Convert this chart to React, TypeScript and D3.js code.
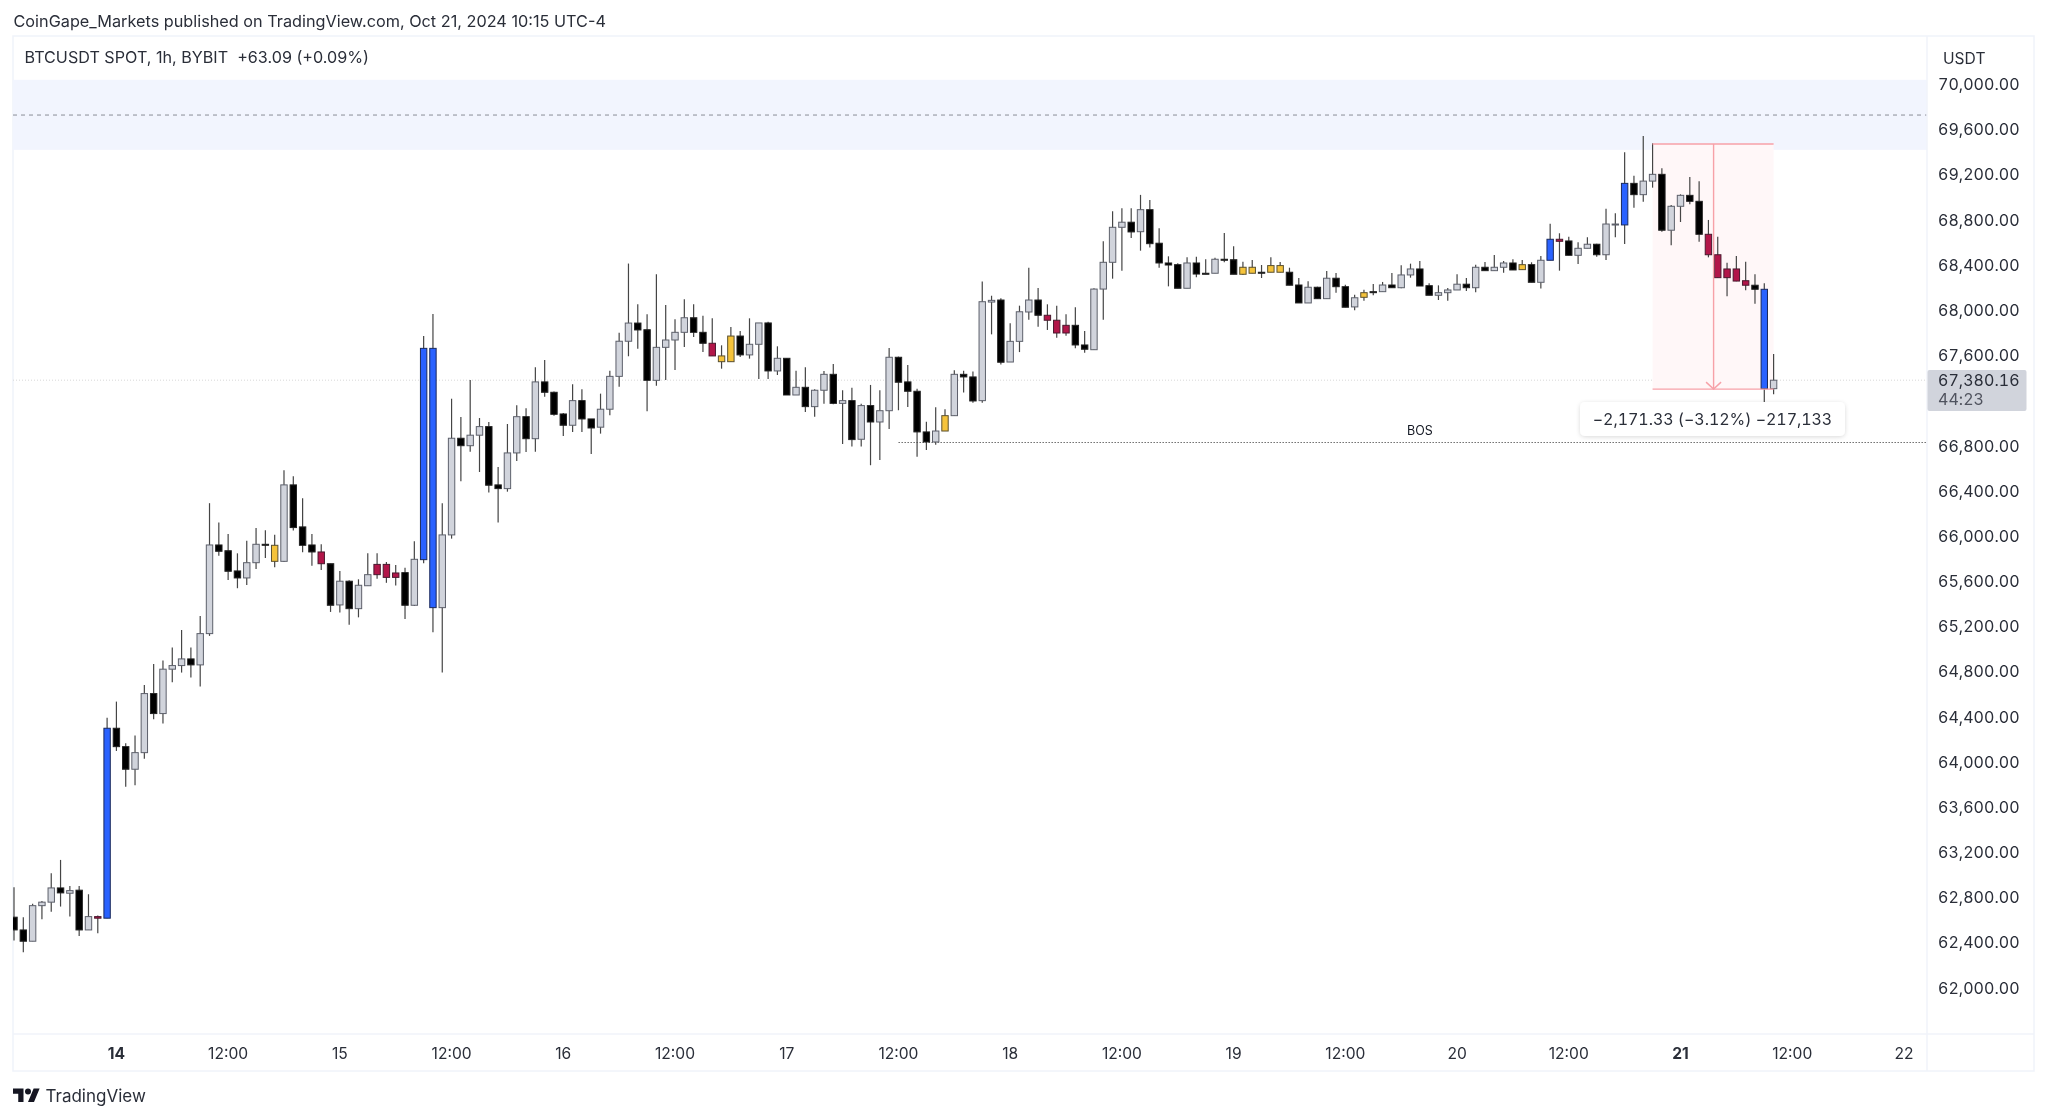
import React from "react";
import * as d3 from "d3";

// One letter per hourly candle: u = up, d = down, b = blue, r = crimson, y = yellow
const candleKinds = [
  "dduuududur", "bdduuduuud", "uuddduudyu", "dddrduduur", "rrdubbuudu",
  "udduududdd", "udduuuuddu", "uuuddryydu", "udududuudu", "duduuddddu",
  "yudduuduuu", "drrrdduuuu", "dudddduddu", "ddyydyyddu", "dudduydudu",
  "udduuududu", "udydubrduu", "duubduuduu", "ddrrrrrdbu",
].join("");

const highs = [
  62890, 62625, 62745, 62769, 63014, 63132, 62902, 62902, 62828, 62639,
  64392, 64534, 64166, 64233, 64682, 64868, 64897, 65012, 65168, 65012,
  65292, 66291, 66119, 66018, 65847, 65959, 66071, 66051, 66012, 66583,
  66530, 66335, 66018, 65927, 65755, 65691, 65608, 65617, 65847, 65847,
  65770, 65744, 65720, 65953, 67771, 67966, 66291, 67216, 67054, 67382,
  67045, 67010, 66612, 66992, 67158, 67131, 67495, 67559, 67279, 67090,
  67344, 67300, 67037, 67261, 67464, 67801, 68413, 68052, 67963, 68318,
  68046, 67919, 68096, 68052, 67951, 67928, 67689, 67851, 67816, 67928,
  67887, 67898, 67680, 67574, 67464, 67495, 67300, 67462, 67524, 67291,
  67314, 67172, 67338, 67291, 67665, 67589, 67515, 67305, 67013, 67140,
  67123, 67468, 67464, 67456, 68255, 68128, 68105, 67884, 68040, 68376,
  68197, 68052, 68040, 67963, 68025, 67816, 68194, 68610, 68876, 68902,
  68902, 69021, 68976, 68725, 68477, 68416, 68469, 68474, 68451, 68465,
  68684, 68566, 68429, 68444, 68400, 68469, 68427, 68376, 68285, 68256,
  68208, 68347, 68330, 68226, 68137, 68182, 68232, 68250, 68330, 68398,
  68412, 68436, 68238, 68220, 68197, 68318, 68285, 68403, 68427, 68489,
  68436, 68451, 68444, 68424, 68480, 68766, 68681, 68651, 68601, 68646,
  68589, 68899, 68858, 69398, 69191, 69543, 69478, 69257, 68932, 69026,
  69180, 69142, 68799, 68651, 68421, 68480, 68429, 68318, 68238, 67612,
];

const bodyTops = [
  62625, 62512, 62727, 62758, 62884, 62884, 62860, 62864, 62630, 62630,
  64298, 64298, 64135, 64082, 64605, 64605, 64821, 64853, 64912, 64912,
  65136, 65921, 65921, 65870, 65691, 65764, 65927, 65927, 65918, 66453,
  66453, 66081, 65921, 65859, 65755, 65600, 65600, 65564, 65658, 65749,
  65749, 65673, 65676, 65794, 67662, 67662, 66010, 66866, 66866, 66893,
  66969, 66969, 66453, 66736, 67057, 67057, 67365, 67365, 67273, 67081,
  67199, 67199, 67037, 67123, 67414, 67725, 67886, 67886, 67827, 67671,
  67736, 67804, 67933, 67933, 67804, 67707, 67595, 67771, 67771, 67698,
  67887, 67887, 67574, 67574, 67317, 67317, 67291, 67432, 67432, 67199,
  67199, 67155, 67155, 67110, 67583, 67583, 67365, 67282, 66922, 66930,
  67066, 67432, 67432, 67409, 68075, 68087, 68090, 67724, 67986, 68090,
  68090, 67955, 67911, 67866, 67866, 67692, 68187, 68424, 68734, 68779,
  68779, 68890, 68890, 68593, 68418, 68403, 68418, 68418, 68327, 68451,
  68451, 68447, 68380, 68380, 68336, 68395, 68395, 68336, 68223, 68203,
  68203, 68283, 68283, 68208, 68110, 68155, 68164, 68223, 68223, 68312,
  68365, 68365, 68217, 68155, 68179, 68230, 68230, 68380, 68380, 68380,
  68418, 68418, 68403, 68403, 68442, 68628, 68628, 68613, 68548, 68584,
  68584, 68763, 68763, 69123, 69123, 69143, 69203, 69203, 68920, 69017,
  69017, 68964, 68672, 68491, 68365, 68365, 68261, 68221, 68185, 67380,
];

const bodyBottoms = [
  62512, 62412, 62412, 62727, 62758, 62840, 62837, 62512, 62512, 62616,
  62616, 64135, 63935, 63935, 64082, 64428, 64428, 64821, 64853, 64859,
  64859, 65136, 65865, 65688, 65629, 65629, 65764, 65918, 65776, 65776,
  66075, 65918, 65859, 65755, 65387, 65390, 65357, 65357, 65560, 65658,
  65634, 65634, 65387, 65387, 65791, 65366, 65366, 66010, 66800, 66800,
  66893, 66450, 66420, 66420, 66736, 66862, 66862, 67273, 67078, 66981,
  66981, 67037, 66957, 66964, 67123, 67414, 67725, 67825, 67379, 67379,
  67671, 67736, 67804, 67804, 67707, 67595, 67544, 67544, 67604, 67604,
  67698, 67462, 67462, 67249, 67249, 67146, 67146, 67291, 67175, 67175,
  66854, 66857, 67010, 67010, 67110, 67362, 67282, 66922, 66833, 66833,
  66930, 67066, 67409, 67196, 67199, 68072, 67539, 67541, 67724, 67984,
  67955, 67911, 67798, 67798, 67692, 67654, 67650, 68187, 68424, 68734,
  68693, 68695, 68589, 68418, 68400, 68194, 68194, 68320, 68318, 68327,
  68442, 68318, 68318, 68327, 68327, 68336, 68336, 68221, 68064, 68064,
  68102, 68102, 68208, 68026, 68029, 68114, 68155, 68164, 68199, 68199,
  68312, 68214, 68132, 68132, 68155, 68179, 68199, 68199, 68350, 68350,
  68380, 68356, 68359, 68247, 68247, 68442, 68610, 68486, 68486, 68548,
  68491, 68491, 68757, 68755, 69023, 69023, 69143, 68708, 68708, 68920,
  68964, 68672, 68491, 68288, 68288, 68258, 68221, 68185, 67305, 67305,
];

const lows = [
  62418, 62315, 62412, 62607, 62674, 62719, 62630, 62459, 62512, 62483,
  62616, 64097, 63781, 63793, 64029, 64378, 64339, 64706, 64791, 64747,
  64667, 65116, 65826, 65611, 65538, 65567, 65708, 65806, 65723, 65770,
  66049, 65856, 65738, 65699, 65328, 65322, 65215, 65280, 65560, 65622,
  65586, 65563, 65266, 65381, 65759, 65148, 64791, 65977, 66485, 66747,
  66567, 66385, 66119, 66393, 66665, 66744, 66747, 67234, 67066, 66886,
  66921, 66921, 66727, 66907, 67070, 67323, 67592, 67659, 67105, 67331,
  67382, 67470, 67674, 67763, 67630, 67595, 67482, 67544, 67586, 67571,
  67391, 67391, 67426, 67249, 67249, 67099, 67057, 67172, 67167, 66815,
  66792, 66792, 66627, 66674, 66948, 67114, 67143, 66703, 66762, 66809,
  66930, 67066, 67270, 67181, 67181, 67786, 67518, 67541, 67629, 67916,
  67854, 67825, 67757, 67774, 67663, 67624, 67647, 67916, 68279, 68350,
  68639, 68527, 68554, 68376, 68211, 68194, 68194, 68291, 68318, 68327,
  68424, 68318, 68312, 68327, 68285, 68336, 68336, 68221, 68064, 68064,
  68102, 68102, 68155, 68026, 67999, 68084, 68132, 68164, 68199, 68194,
  68288, 68214, 68132, 68090, 68084, 68179, 68170, 68158, 68350, 68350,
  68332, 68356, 68359, 68247, 68191, 68442, 68350, 68486, 68409, 68548,
  68474, 68445, 68645, 68587, 68908, 68961, 69085, 68695, 68575, 68781,
  68938, 68607, 68468, 68288, 68123, 68256, 68176, 68058, 67146, 67255,
];

const kindStyle: Record<string, { fill: string; stroke: string }> = {
  u: { fill: "#d1d4dc", stroke: "#5d606b" },
  d: { fill: "#000000", stroke: "#222222" },
  b: { fill: "#2962ff", stroke: "#1b2a5c" },
  r: { fill: "#b2134a", stroke: "#4a1a2e" },
  y: { fill: "#f5c33b", stroke: "#5a5030" },
};

const firstHour = Date.UTC(2024, 9, 13, 13);
const hour = 3600000;
const dayTicks = ["14", "15", "16", "17", "18", "19", "20", "21", "22"];
const boldDays = ["14", "21"];
const priceTickStart = 62000;
const priceTickStop = 70000;
const priceTickStep = 400;
const hiddenPriceTick = 67200;

const zoneTop = 70040;
const zoneBottom = 69420;
const zoneMid = 69728;
const lastPrice = 67380.16;
const bosPrice = 66833;
const bosStartIndex = 95;
const measureTop = 69472;
const measureBottom = 67301;
const measureStartIndex = 176;
const measureEndIndex = 189;

const titleText = "CoinGape_Markets published on TradingView.com, Oct 21, 2024 10:15 UTC-4";
const symbolText = "BTCUSDT SPOT, 1h, BYBIT  +63.09 (+0.09%)";
const measureText = "\u22122,171.33 (\u22123.12%) \u2212217,133";
const countdown = "44:23";

const W = 2048;
const H = 1119;
const FONT = "Inter, 'Noto Sans', sans-serif";
const TEXT = "#2a2e39";
const frame = { left: 13, right: 2034, top: 36, bottom: 1071, axisX: 1927, axisY: 1034 };

const x = d3
  .scaleUtc()
  .domain([new Date(firstHour), new Date(firstHour + 189 * hour)])
  .range([14, 1773.6]);
const y = d3.scaleLinear().domain([69600, 66800]).range([129.5, 445.7]);
const xi = (i: number) => x(new Date(firstHour + i * hour));

const priceTicks = d3
  .range(priceTickStart, priceTickStop + 1, priceTickStep)
  .filter((p) => p !== hiddenPriceTick);
const fmt = d3.format(",.2f");

const timeTicks = dayTicks.flatMap((label, k) => {
  const day = Date.UTC(2024, 9, 14 + k);
  const out = [{ label, date: new Date(day), bold: boldDays.includes(label) }];
  if (k < dayTicks.length - 1) out.push({ label: "12:00", date: new Date(day + 12 * hour), bold: false });
  return out;
});

export default function App() {
  const cw = 6.4;
  const ms = { x0: xi(measureStartIndex), x1: xi(measureEndIndex), yt: y(measureTop), yb: y(measureBottom) };
  const mx = (ms.x0 + ms.x1) / 2 + 0.5;
  const tabular = { fontVariantNumeric: "tabular-nums" as const };
  return (
    <svg
      width={W}
      height={H}
      viewBox={`0 0 ${W} ${H}`}
      style={{ position: "absolute", left: 0, top: 0, display: "block", background: "#fff" }}
      fontFamily={FONT}
    >
      <defs>
        <clipPath id="pane">
          <rect x={frame.left} y={frame.top} width={frame.axisX - frame.left} height={frame.axisY - frame.top} />
        </clipPath>
        <filter id="sh" x="-10%" y="-30%" width="120%" height="170%">
          <feDropShadow dx="0" dy="1" stdDeviation="2" floodColor="#000" floodOpacity="0.15" />
        </filter>
        <filter id="soft" x="0" y="0" width="100%" height="100%" filterUnits="userSpaceOnUse" primitiveUnits="userSpaceOnUse">
          <feGaussianBlur stdDeviation="0.4" />
        </filter>
      </defs>

      <g filter="url(#soft)">
        <rect x={0} y={0} width={W} height={H} fill="#fff" />
        <text x={13.5} y={27} fontSize={16.25} fill={TEXT}>{titleText}</text>

        {/* frame */}
        <rect x={frame.left} y={frame.top} width={frame.right - frame.left} height={frame.bottom - frame.top} fill="#fff" stroke="#f0f3fa" strokeWidth={1.5} />

        <g clipPath="url(#pane)">
          <rect x={frame.left} y={y(zoneTop)} width={frame.axisX - frame.left} height={y(zoneBottom) - y(zoneTop)} fill="#f2f5fe" />
          <line x1={frame.left} x2={frame.axisX} y1={y(zoneMid)} y2={y(zoneMid)} stroke="#8a8d96" strokeWidth={1} strokeDasharray="4 4" />
          <line x1={frame.left} x2={frame.axisX} y1={y(lastPrice)} y2={y(lastPrice)} stroke="#d8d8d8" strokeWidth={1} strokeDasharray="1 2" />
          <line x1={xi(bosStartIndex)} x2={frame.axisX} y1={Math.round(y(bosPrice)) + 0.5} y2={Math.round(y(bosPrice)) + 0.5} stroke="#6e6e6e" strokeWidth={1} strokeDasharray="1.5 1.5" />
          <text x={1420} y={y(bosPrice) - 7} fontSize={12.5} fill="#131722" textAnchor="middle">BOS</text>

          {/* measure tool background */}
          <rect x={ms.x0} y={ms.yt} width={ms.x1 - ms.x0} height={ms.yb - ms.yt} fill="#fff7f8" />

          {highs.map((_, i) => {
            const k = kindStyle[candleKinds[i]];
            const cx = xi(i);
            const t = y(bodyTops[i]);
            const b = y(bodyBottoms[i]);
            return (
              <g key={i}>
                <line x1={cx} x2={cx} y1={y(highs[i])} y2={y(lows[i])} stroke="#444444" strokeWidth={1.2} />
                <rect x={cx - cw / 2} y={t} width={cw} height={Math.max(b - t, 1)} fill={k.fill} stroke={k.stroke} strokeWidth={1} />
              </g>
            );
          })}

          {/* measure tool lines */}
          <g stroke="#f7a1a8" strokeWidth={1.4} fill="none">
            <line x1={ms.x0} x2={ms.x1} y1={ms.yt} y2={ms.yt} />
            <line x1={ms.x0} x2={ms.x1} y1={ms.yb} y2={ms.yb} />
            <line x1={mx} x2={mx} y1={ms.yt} y2={ms.yb} />
            <path d={`M${mx - 7.5},${ms.yb - 7} L${mx},${ms.yb} L${mx + 7.5},${ms.yb - 7}`} />
          </g>
        </g>

        <rect x={1580} y={402} width={265} height={34} rx={5} fill="#fff" filter="url(#sh)" />
        <text x={1712.5} y={425} fontSize={16} fill={TEXT} textAnchor="middle" letterSpacing={-0.05} style={tabular}>{measureText}</text>

        <text x={24.5} y={63} fontSize={16.15} fill={TEXT} style={{ whiteSpace: "pre" }}>{symbolText}</text>

        {/* price axis */}
        <line x1={frame.axisX} x2={frame.axisX} y1={frame.top} y2={frame.bottom} stroke="#f0f3fa" strokeWidth={1.5} />
        <line x1={frame.left} x2={frame.right} y1={frame.axisY} y2={frame.axisY} stroke="#f0f3fa" strokeWidth={1.5} />
        <text x={1943} y={63.5} fontSize={15.6} fill={TEXT}>USDT</text>
        {priceTicks.map((p) => (
          <text key={p} x={1938} y={y(p) + 5.8} fontSize={16} fill={TEXT} letterSpacing={0.05} style={tabular}>{fmt(p)}</text>
        ))}
        <rect x={1927.5} y={370} width={99} height={41} rx={2} fill="#d1d4dc" />
        <text x={1938} y={385.8} fontSize={16} fill={TEXT} letterSpacing={0.05} style={tabular}>{fmt(lastPrice)}</text>
        <text x={1938} y={404.5} fontSize={16} fill="#50535e" letterSpacing={0.05} style={tabular}>{countdown}</text>

        {/* time axis */}
        {timeTicks.map((t, i) => (
          <text key={i} x={x(t.date)} y={1059} fontSize={15.6} fontWeight={t.bold ? 700 : 400} fill={TEXT} textAnchor="middle">{t.label}</text>
        ))}

        {/* logo */}
        <g transform="translate(13,1085.5) scale(0.75)" fill="#131722">
          <path d="M14 22H7V11H0V4h14v18zM28 22h-8l7.5-18h8L28 22z" />
          <circle cx={20} cy={8} r={4} />
        </g>
        <text x={45.5} y={1102} fontSize={17} fill={TEXT}>TradingView</text>
      </g>
    </svg>
  );
}
